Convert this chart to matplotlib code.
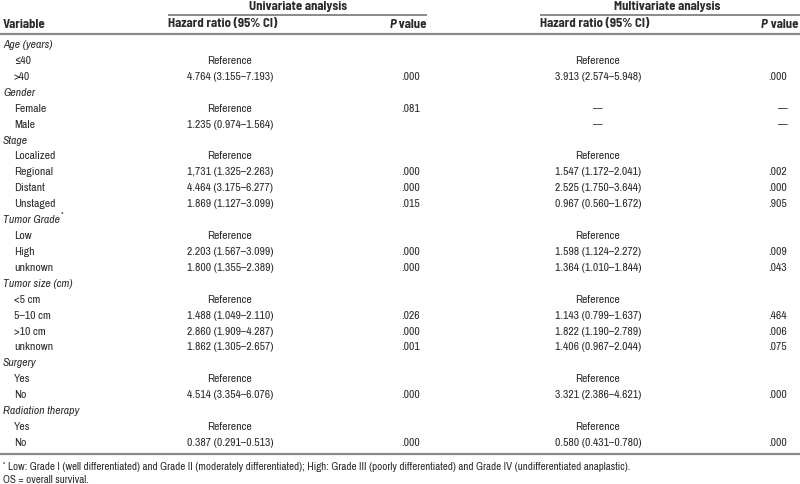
import matplotlib
matplotlib.use("Agg")
import matplotlib.pyplot as plt

# table contents
variables = ["Age (years)", "≤40", ">40",
             "Gender", "Female", "Male",
             "Stage", "Localized", "Regional", "Distant", "Unstaged",
             "Tumor Grade", "Low", "High", "unknown",
             "Tumor size (cm)", "<5 cm", "5–10 cm", ">10 cm", "unknown",
             "Surgery", "Yes", "No",
             "Radiation therapy", "Yes", "No"]
is_group = [True, False, False,
            True, False, False,
            True, False, False, False, False,
            True, False, False, False,
            True, False, False, False, False,
            True, False, False,
            True, False, False]
uni_hr = ["", "Reference", "4.764 (3.155–7.193)",
          "", "Reference", "1.235 (0.974–1.564)",
          "", "Reference", "1,731 (1.325–2.263)", "4.464 (3.175–6.277)", "1.869 (1.127–3.099)",
          "", "Reference", "2.203 (1.567–3.099)", "1.800 (1.355–2.389)",
          "", "Reference", "1.488 (1.049–2.110)", "2.860 (1.909–4.287)", "1.862 (1.305–2.657)",
          "", "Reference", "4.514 (3.354–6.076)",
          "", "Reference", "0.387 (0.291–0.513)"]
uni_p = ["", "", ".000",
         "", ".081", "",
         "", "", ".000", ".000", ".015",
         "", "", ".000", ".000",
         "", "", ".026", ".000", ".001",
         "", "", ".000",
         "", "", ".000"]
multi_hr = ["", "Reference", "3.913 (2.574–5.948)",
            "", "—", "—",
            "", "Reference", "1.547 (1.172–2.041)", "2.525 (1.750–3.644)", "0.967 (0.560–1.672)",
            "", "Reference", "1.598 (1.124–2.272)", "1.364 (1.010–1.844)",
            "", "Reference", "1.143 (0.799–1.637)", "1.822 (1.190–2.789)", "1.406 (0.967–2.044)",
            "", "Reference", "3.321 (2.386–4.621)",
            "", "Reference", "0.580 (0.431–0.780)"]
multi_p = ["", "", ".000",
           "", "—", "—",
           "", "", ".002", ".000", ".905",
           "", "", ".009", ".043",
           "", "", ".464", ".006", ".075",
           "", "", ".000",
           "", "", ".000"]
footnote = ("Low: Grade I (well differentiated) and Grade II (moderately differentiated); "
            "High: Grade III (poorly differentiated) and Grade IV (undifferentiated anaplastic).")
abbrev = "OS = overall survival."

BODY = ["Archivo Narrow", "DejaVu Sans"]
BOLD = ["Barlow Semi Condensed", "DejaVu Sans"]
plt.rcParams["font.family"] = BODY
TXT = "#2b2b2b"
LINE = "#8a8a8a"

fig = plt.figure(figsize=(8, 4.84), dpi=100)
ax = fig.add_axes([0, 0, 1, 1])
ax.set_xlim(0, 800)
ax.set_ylim(484, 0)
ax.axis("off")
fig.canvas.draw()
renderer = fig.canvas.get_renderer()


def width_of(t):
    return t.get_window_extent(renderer=renderer).width  # pixels == data units


def fit_size(sample, target, **kw):
    # font size that gives the sample string the target pixel width
    t = ax.text(0, 0, sample, fontsize=10, **kw)
    w = width_of(t)
    t.remove()
    return 10 * target / w


FS = 8.4
FSB = fit_size("Hazard ratio (95% CI)", 109, family=BOLD, fontweight="bold")
FSN = fit_size(footnote, 620)
hb = dict(fontsize=FSB, family=BOLD, fontweight="bold", color=TXT, va="center")

# group headers
ax.text(298, 7, "Univariate analysis", ha="center", **hb)
ax.text(667, 7, "Multivariate analysis", ha="center", **hb)
ax.plot([168, 427], [14.5, 14.5], color=LINE, lw=1.4, solid_capstyle="butt")
ax.plot([540, 800], [14.5, 14.5], color=LINE, lw=1.4, solid_capstyle="butt")

# column headers
ax.text(3, 24, "Variable", ha="left", **hb)
ax.text(168, 24, "Hazard ratio (95% CI)", ha="left", **hb)
ax.text(540, 24, "Hazard ratio (95% CI)", ha="left", **hb)
for xr in (427, 798):
    t = ax.text(xr, 24, " value", ha="right", **hb)
    ax.text(xr - width_of(t), 24, "P", ha="right", fontstyle="italic", **hb)
ax.plot([0, 800], [33.5, 33.5], color=LINE, lw=1.6, solid_capstyle="butt")

# body rows
y0, dy = 45, 15.92
for i, var in enumerate(variables):
    y = y0 + i * dy
    if is_group[i]:
        t = ax.text(3, y, var, ha="left", va="center", fontsize=FS,
                    fontstyle="italic", color=TXT)
        if var == "Tumor Grade":
            ax.text(3 + width_of(t) + 1, y - 5, "*", ha="left", va="center",
                    fontsize=5.5, color=TXT)
        continue
    ax.text(14, y, var, ha="left", va="center", fontsize=FS, color=TXT)
    ax.text(230, y, uni_hr[i], ha="center", va="center", fontsize=FS, color=TXT)
    ax.text(420, y, uni_p[i], ha="right", va="center", fontsize=FS, color=TXT)
    ax.text(598, y, multi_hr[i], ha="center", va="center", fontsize=FS, color=TXT)
    ax.text(787, y, multi_p[i], ha="right", va="center", fontsize=FS, color=TXT)

ax.plot([0, 800], [454, 454], color=LINE, lw=1.6, solid_capstyle="butt")

# footnotes
ax.text(3, 464, "*", ha="left", va="center", fontsize=5, color=TXT)
ax.text(8, 467, footnote, ha="left", va="center", fontsize=FSN, color=TXT)
ax.text(3, 480, abbrev, ha="left", va="center", fontsize=FSN, color=TXT)

fig.savefig("out.png", dpi=100)
